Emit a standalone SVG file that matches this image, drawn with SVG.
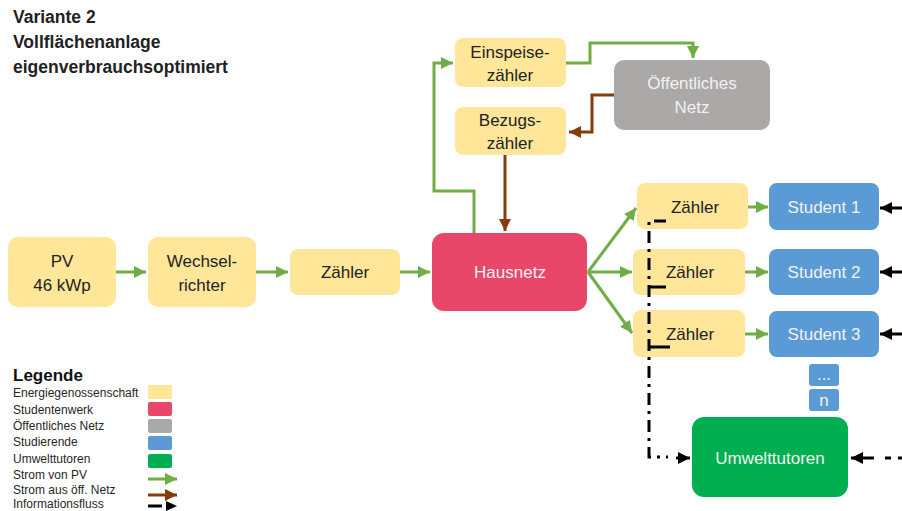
<svg xmlns="http://www.w3.org/2000/svg" width="902" height="511" viewBox="0 0 902 511">
<style>
.y{fill:#FFE699}
.p{fill:#E8476A}
.g{fill:#ABA8A8}
.b{fill:#5B9BD5}
.u{fill:#00B050}
text{font-family:"Liberation Sans",Arial,sans-serif}
.t{font-size:17px;text-anchor:middle;fill:#222}
.tw{font-size:17px;text-anchor:middle;fill:#F2F2F2}
.lg{font-size:12px;fill:#262626}
.gl{fill:none;stroke:#70AD47;stroke-width:3}
.bl{fill:none;stroke:#843C0C;stroke-width:3}
.kl{fill:none;stroke:#000;stroke-width:3}
.dd{fill:none;stroke:#000;stroke-width:3;stroke-dasharray:12 6 3 6}
</style>
<defs>
<marker id="ag" viewBox="0 0 10 10" refX="10" refY="5" markerWidth="4" markerHeight="4" orient="auto" markerUnits="strokeWidth"><path d="M0,0L10,5L0,10z" fill="#70AD47"/></marker>
<marker id="ab" viewBox="0 0 10 10" refX="10" refY="5" markerWidth="4" markerHeight="4" orient="auto" markerUnits="strokeWidth"><path d="M0,0L10,5L0,10z" fill="#843C0C"/></marker>
<marker id="ak" viewBox="0 0 10 10" refX="10" refY="5" markerWidth="4" markerHeight="4" orient="auto" markerUnits="strokeWidth"><path d="M0,0L10,5L0,10z" fill="#000"/></marker>
</defs>

<g id="title" font-weight="bold" font-size="17.5" fill="#222">
<text x="13" y="23">Variante 2</text>
<text x="13" y="48">Vollflächenanlage</text>
<text x="13" y="73">eigenverbrauchsoptimiert</text>
</g>

<g id="pv"><rect class="y" x="8" y="237" width="108" height="70" rx="10"/><text class="t" x="62" y="267">PV</text><text class="t" x="62" y="291">46 kWp</text></g>
<g id="wechselrichter"><rect class="y" x="148" y="237" width="108" height="70" rx="10"/><text class="t" x="202" y="267">Wechsel-</text><text class="t" x="202" y="291">richter</text></g>
<g id="zaehler"><rect class="y" x="290" y="249" width="110" height="46" rx="8"/><text class="t" x="345" y="278">Zähler</text></g>
<g id="hausnetz"><rect class="p" x="432" y="233" width="155" height="78" rx="12"/><text class="tw" x="510" y="278">Hausnetz</text></g>
<g id="einspeisezaehler"><rect class="y" x="455" y="38" width="111" height="49" rx="8"/><text class="t" x="510" y="58">Einspeise-</text><text class="t" x="510" y="81">zähler</text></g>
<g id="bezugszaehler"><rect class="y" x="455" y="107" width="111" height="48" rx="8"/><text class="t" x="510" y="126">Bezugs-</text><text class="t" x="510" y="149">zähler</text></g>
<g id="netz"><rect class="g" x="614" y="60" width="156" height="70" rx="10"/><text class="tw" x="692" y="89" fill="#EDEDED">Öffentliches</text><text class="tw" x="692" y="113">Netz</text></g>
<g id="zaehler1"><rect class="y" x="637" y="183" width="111" height="46" rx="8"/><text class="t" x="695" y="213">Zähler</text></g>
<g id="zaehler2"><rect class="y" x="633" y="249" width="112" height="46" rx="8"/><text class="t" x="690" y="278">Zähler</text></g>
<g id="zaehler3"><rect class="y" x="633" y="310" width="112" height="47" rx="8"/><text class="t" x="690" y="340">Zähler</text></g>
<g id="student1"><rect class="b" x="769" y="183" width="110" height="47" rx="8"/><text class="tw" x="824" y="213">Student 1</text></g>
<g id="student2"><rect class="b" x="769" y="249" width="110" height="46" rx="8"/><text class="tw" x="824" y="278">Student 2</text></g>
<g id="student3"><rect class="b" x="769" y="311" width="110" height="46" rx="8"/><text class="tw" x="824" y="340">Student 3</text></g>
<g id="dots"><rect class="b" x="809" y="364" width="30" height="22" rx="3"/><text class="tw" x="824" y="380" font-size="14">...</text></g>
<g id="n"><rect class="b" x="809" y="389" width="30" height="22" rx="3"/><text class="tw" x="824" y="406" font-size="16">n</text></g>
<g id="umwelttutoren"><rect class="u" x="692" y="417" width="156" height="80" rx="12"/><text class="tw" x="770" y="464" fill="#E2F5E2">Umwelttutoren</text></g>

<g id="connectors">
<path class="gl" d="M116,272H146" marker-end="url(#ag)"/>
<path class="gl" d="M256,272H288" marker-end="url(#ag)"/>
<path class="gl" d="M400,272H430" marker-end="url(#ag)"/>
<path class="gl" d="M474,233V191H434V63H453" marker-end="url(#ag)"/>
<path class="gl" d="M566,63H590V43H693V58" marker-end="url(#ag)"/>
<path class="bl" d="M614,95H592V132H569" marker-end="url(#ab)"/>
<path class="bl" d="M505,155V231" marker-end="url(#ab)"/>
<path class="gl" d="M588,272L636,208" marker-end="url(#ag)"/>
<path class="gl" d="M588,272H632" marker-end="url(#ag)"/>
<path class="gl" d="M588,272L632,333" marker-end="url(#ag)"/>
<path class="gl" d="M748,207H768" marker-end="url(#ag)"/>
<path class="gl" d="M745,272H768" marker-end="url(#ag)"/>
<path class="gl" d="M745,334H768" marker-end="url(#ag)"/>
<path class="kl" d="M902,208H880" marker-end="url(#ak)"/>
<path class="kl" d="M902,272H880" marker-end="url(#ak)"/>
<path class="kl" d="M902,334H880" marker-end="url(#ak)"/>
<path class="kl" d="M874,458H851" marker-end="url(#ak)"/>
<path class="kl" d="M885,458H891M898,458H902"/>
<path class="dd" d="M666,221H649V457H668"/>
<path class="kl" d="M650,287H666M650,347H670"/>
<path class="kl" d="M676,458H690" marker-end="url(#ak)"/>
</g>

<g id="legend">
<text x="13" y="381" font-size="17" font-weight="bold" fill="#111">Legende</text>
<text class="lg" x="13" y="397">Energiegenossenschaft</text>
<text class="lg" x="13" y="414">Studentenwerk</text>
<text class="lg" x="13" y="430">Öffentliches Netz</text>
<text class="lg" x="13" y="446">Studierende</text>
<text class="lg" x="13" y="463">Umwelttutoren</text>
<text class="lg" x="13" y="479">Strom von PV</text>
<text class="lg" x="13" y="494">Strom aus öff. Netz</text>
<text class="lg" x="13" y="508">Informationsfluss</text>
<rect class="y" x="148" y="385" width="24" height="14" rx="2"/>
<rect class="p" x="148" y="402" width="24" height="14" rx="2"/>
<rect class="g" x="148" y="419" width="24" height="14" rx="2"/>
<rect class="b" x="148" y="436" width="24" height="14" rx="2"/>
<rect class="u" x="148" y="454" width="24" height="14" rx="2"/>
<path class="gl" d="M148,479H177" marker-end="url(#ag)"/>
<path class="bl" d="M148,495H177" marker-end="url(#ab)"/>
<path class="kl" d="M148,506H162" />
<path d="M166,501L177,506L166,511z" fill="#000"/>
</g>
</svg>
